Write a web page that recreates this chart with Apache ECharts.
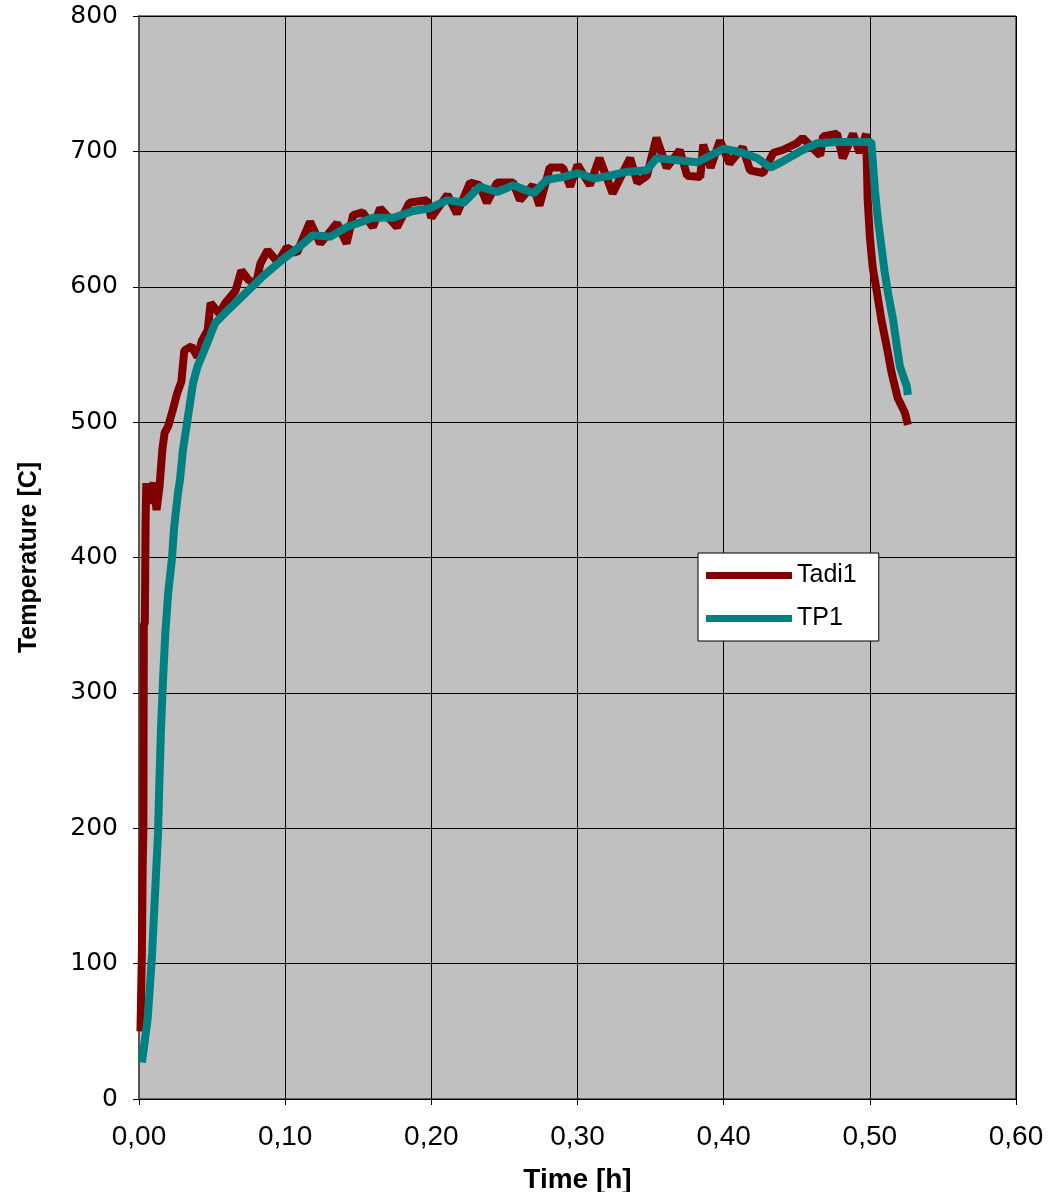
<!DOCTYPE html>
<html>
<head>
<meta charset="utf-8">
<script src="https://cdn.jsdelivr.net/npm/echarts@6/dist/echarts.min.js"></script>
<style>html,body{margin:0;padding:0;background:#fff;}#c{width:1048px;height:1192px;}</style>
</head>
<body>
<div id="c"></div>
<script>
const seriesNames = ['Tadi1', 'TP1'];
const xTicks = ['0,00','0,10','0,20','0,30','0,40','0,50','0,60'];
const tadiTime = [0.001,0.002,0.0025,0.003,0.0033,0.004,0.0045,0.005,0.006,0.008,0.010,0.012,0.014,0.016,0.0175,0.020,0.0226,0.026,0.029,0.031,0.036,0.040,0.043,0.047,0.049,0.055,0.059,0.066,0.070,0.075,0.080,0.083,0.088,0.095,0.101,0.108,0.117,0.124,0.1355,0.142,0.1465,0.153,0.160,0.165,0.1765,0.185,0.197,0.200,0.211,0.2175,0.2265,0.233,0.238,0.245,0.256,0.2606,0.2695,0.274,0.281,0.290,0.295,0.300,0.3085,0.315,0.324,0.336,0.341,0.3475,0.354,0.361,0.370,0.375,0.384,0.386,0.391,0.3975,0.404,0.413,0.418,0.427,0.434,0.4405,0.450,0.454,0.466,0.468,0.4775,0.4815,0.4885,0.493,0.4975,0.4985,0.500,0.502,0.505,0.508,0.5117,0.515,0.519,0.524,0.526];
const tadiTemp = [50,110,170,200,350,352,425,455,440,450,455,435,452,480,492,497,507,521,530,553,556,548,560,568,588,580,588,597,612,605,602,617,627,618,629,625,648,632,647,632,653,655,644,658,644,662,664,651,668,654,677,675,662,677,677,664,675,660,688,688,674,690,675,695,669,695,677,682,710,688,701,682,681,705,688,708,691,703,686,684,699,701,706,710,697,711,713,695,713,699,713,665,637,614,595,575,555,536,518,507,498];
const tpTime = [0.002,0.003,0.006,0.009,0.011,0.013,0.014,0.015,0.0164,0.018,0.020,0.0226,0.024,0.0267,0.028,0.030,0.0335,0.037,0.040,0.0465,0.052,0.061,0.0725,0.084,0.098,0.108,0.119,0.131,0.142,0.160,0.174,0.1875,0.199,0.211,0.222,0.233,0.245,0.256,0.270,0.279,0.290,0.300,0.311,0.322,0.334,0.3475,0.354,0.372,0.382,0.391,0.400,0.413,0.423,0.432,0.441,0.454,0.464,0.4775,0.491,0.501,0.5035,0.5056,0.508,0.510,0.5125,0.516,0.5186,0.5206,0.5254,0.526];
const tpTemp = [27,35,60,108,152,196,236,272,309,344,374,400,422,448,457,479,504,529,541,558,573,583,595,607,620,628,638,637,644,651,651,656,658,664,662,674,670,675,669,679,681,684,680,682,685,686,695,693,692,697,702,699,695,688,693,701,706,707,707,707,671,649,629,612,595,575,555,541,526,520];

function pairs(xs, ys){ return xs.map((x,i)=>[x, ys[i]]); }

const chart = echarts.init(document.getElementById('c'), null, {renderer:'canvas'});
chart.setOption({
  backgroundColor: '#ffffff',
  animation: false,
  grid: {left: 139, right: 32, top: 16, bottom: 93, containLabel: false, outerBoundsMode: 'none',
    show: true, backgroundColor: '#C0C0C0', borderColor: '#000', borderWidth: 1},
  xAxis: {
    type: 'value', min: 0, max: 0.6, interval: 0.1,
    name: 'Time [h]', nameLocation: 'middle', nameGap: 67,
    nameTextStyle: {fontFamily: 'Liberation Sans, Arial', fontWeight: 'bold', fontSize: 28, color: '#000'},
    axisLine: {lineStyle: {color: '#000', width: 1}},
    axisTick: {show: true, length: 6, lineStyle: {color: '#000'}},
    splitLine: {show: true, lineStyle: {color: '#000', width: 1}},
    axisLabel: {fontFamily: 'Liberation Sans, Arial', fontSize: 28, color: '#000', margin: 24,
      formatter: v => xTicks[Math.round(v*10)]}
  },
  yAxis: {
    type: 'value', min: 0, max: 800, interval: 100,
    name: 'Temperature [C]', nameLocation: 'middle', nameGap: 97, nameRotate: 90,
    nameTextStyle: {fontFamily: 'Liberation Sans, Arial', fontWeight: 'bold', fontSize: 25, color: '#000'},
    axisLine: {show: true, lineStyle: {color: '#555', width: 2}},
    axisTick: {show: true, length: 6, lineStyle: {color: '#000'}},
    splitLine: {show: true, lineStyle: {color: '#000', width: 1}},
    axisLabel: {fontFamily: 'DejaVu Sans', fontSize: 25, color: '#000', margin: 21}
  },
  legend: {
    left: 698, top: 553, orient: 'vertical',
    backgroundColor: '#fff', borderColor: '#000', borderWidth: 1,
    padding: [10, 22, 10, 8], itemGap: 18, itemWidth: 86, itemHeight: 7,
    textStyle: {fontFamily: 'Liberation Sans, Arial', fontSize: 25, color: '#000'},
    data: [{name: seriesNames[0], icon: 'rect'}, {name: seriesNames[1], icon: 'rect'}]
  },
  series: [
    {name: seriesNames[0], type: 'line', data: pairs(tadiTime, tadiTemp), showSymbol: false, symbol: 'none',
     lineStyle: {color: '#800000', width: 8}, itemStyle: {color: '#800000'}},
    {name: seriesNames[1], type: 'line', data: pairs(tpTime, tpTemp), showSymbol: false, symbol: 'none',
     lineStyle: {color: '#008080', width: 8}, itemStyle: {color: '#008080'}}
  ]
});
</script>
</body>
</html>
